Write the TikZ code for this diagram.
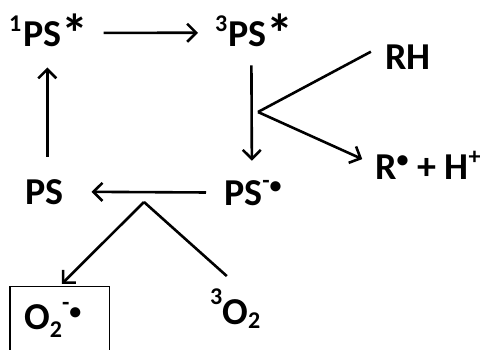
\documentclass[tikz,border=0pt]{standalone}
\usepackage{fontspec}
\setmainfont{Carlito}
\usetikzlibrary{arrows.meta}
\newcommand\supx[2][15pt]{\raisebox{#1}{\fontsize{24pt}{24pt}\selectfont #2}}
\newcommand\subx[2][-8pt]{\raisebox{#1}{\fontsize{24pt}{24pt}\selectfont #2}}
\newcommand\bigast{\raisebox{-6pt}[20pt][0pt]{\fontsize{54pt}{54pt}\selectfont *}}
\begin{document}
\begin{tikzpicture}[x=1pt,y=-1pt,
  lbl/.style={anchor=base west, inner sep=0pt, font=\fontsize{38pt}{38pt}\selectfont\bfseries},
  arr/.style={line width=2.6pt, -{Straight Barb[length=9pt,width=18pt,line width=2.6pt]}},
  ln/.style={line width=2.6pt},
  boxst/.style={draw, line width=1.3pt, minimum width=99.4pt, minimum height=80pt, anchor=north west, inner sep=0pt}]
\useasboundingbox (0,0) rectangle (490,349);
% nodes
\node[lbl] (n1) at (9,46) {\supx{1}\kern2pt PS\bigast};
\node[lbl] (n3) at (215,46) {\supx{3}\kern1pt PS\bigast};
\node[lbl] (rh) at (385,69) {RH};
\node[lbl] (rr) at (375,179) {R\supx[12pt]{•} + H\supx{+}};
\node[lbl] (ps) at (25,204) {PS};
\node[lbl] (psr) at (224,205) {PS\supx[17pt]{-}\supx[12pt]{•}};
\node[lbl] (o2) at (24,329) {O\subx{2}\supx[19pt]{-}\supx[10pt]{•}};
\node[lbl] (o3) at (210,324) {\supx[20pt]{3}O\subx[-4pt]{2}};
\node[boxst] (box) at (9.3,286) {};
\coordinate (V) at (258,112);
\coordinate (A) at (144,202);
% connectors
\draw[arr, shorten <=15pt, shorten >=17pt] ([yshift=-2pt]n1.east) -- ([yshift=-2pt]n3.west);
\draw[arr, shorten <=22pt, shorten >=21pt] ([xshift=3pt]ps.north) -- ([xshift=3pt]ps.north |- n1.south);
\draw[arr, shorten <=19pt, shorten >=19pt] ([xshift=-3pt]n3.south) -- ([xshift=-1pt]psr.north);
\draw[ln, shorten <=16pt] (rh.north west) -- (V);
\draw[arr, shorten >=14pt] (V) -- (rr.west);
\draw[arr, shorten <=18pt, shorten >=28pt] (psr.west) -- (ps.east);
\draw[arr, shorten >=3pt] (A) -- (box.north);
\draw[ln, shorten >=18pt] (A) -- ([xshift=5pt]o3.north);
\end{tikzpicture}
\end{document}
